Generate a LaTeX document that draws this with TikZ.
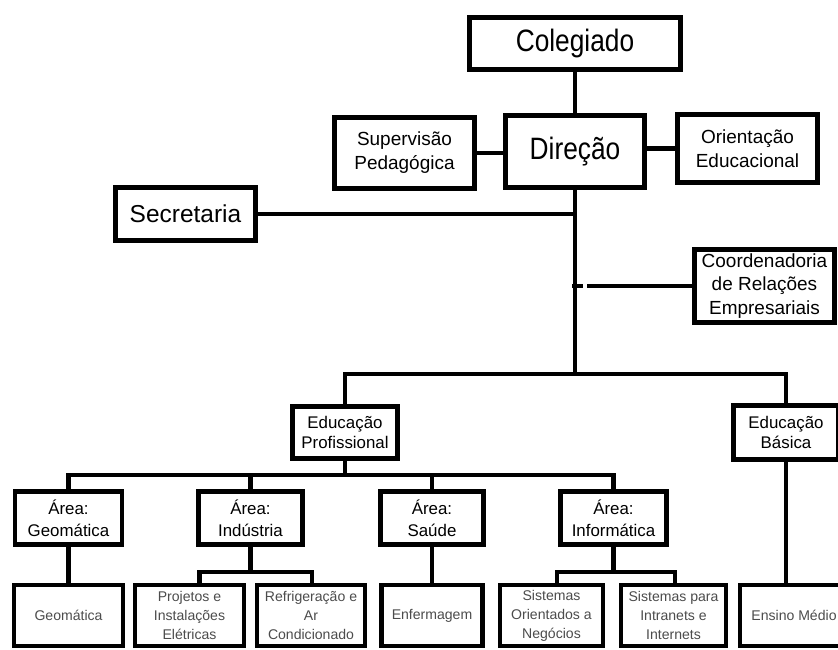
\documentclass[tikz,border=0pt]{standalone}
\usepackage{fontspec}
\setmainfont{Liberation Sans}
\newfontfamily\narrowsf[FakeStretch=0.85]{Liberation Sans}
\tikzset{
  box/.style={draw, line width=3.3pt, fill=white, align=center, inner sep=0pt},
  wh/.style 2 args={minimum width=#1*0.025cm, minimum height=#2*0.025cm},
  big/.style={box, font=\narrowsf\fontsize{22pt}{26pt}\selectfont},
  mid/.style={box, font=\fontsize{13.5pt}{17pt}\selectfont},
  sect/.style={box, font=\fontsize{17.4pt}{20pt}\selectfont},
  edu/.style={box, font=\fontsize{12pt}{14.2pt}\selectfont},
  area/.style={box, font=\fontsize{12pt}{15.6pt}\selectfont},
  leaf/.style={box, line width=2.9pt, text=black!70, font=\fontsize{10pt}{13.6pt}\selectfont},
  link/.style={line width=3.2pt}
}

\begin{document}
\begin{tikzpicture}[x=0.025cm, y=-0.025cm]
	\useasboundingbox (0,0) rectangle (838,650);
	
	\node[big, wh={211}{52}] (col) at (575,43.5) {Colegiado};
	\node[big, wh={139}{72}] (dir) at (575,151.5) {Direção};
	\node[mid, wh={140}{71}] (sup) at (404.5,153) {Supervisão\\Pedagógica};
	\node[mid, wh={140}{68}] (ori) at (747.5,148.5) {Orientação\\Educacional};
	\node[sect, wh={140}{53}] (sec) at (185.5,214) {Secretaria};
	\node[mid, wh={140}{73}] (coo) at (764.5,286) {Coordenadoria\\de Relações\\Empresariais};
	
	\node[edu, wh={105}{52}] (ep) at (345,432.5) {Educação\\Profissional};
	\node[edu, wh={105}{54}] (eb) at (786,432.5) {Educação\\Básica};
	
	\node[area, wh={107}{53}] (ageo) at (68.5,518) {Área:\\Geomática};
	\node[area, wh={104}{53}] (aind) at (250.5,518) {Área:\\Indústria};
	\node[area, wh={103}{53}] (asau) at (432,518) {Área:\\Saúde};
	\node[area, wh={106}{53}] (ainf) at (613.5,518) {Área:\\Informática};
	
	\node[leaf, wh={109}{61}] (geo) at (68.5,615.5) {Geomática};
	\node[leaf, wh={109}{61}] (pro) at (189.5,615.5) {Projetos e\\Instalações\\Elétricas};
	\node[leaf, wh={108}{61}] (ref) at (311,615.5) {Refrigeração e\\Ar\\Condicionado};
	\node[leaf, wh={101}{61}] (enf) at (432,615.5) {Enfermagem};
	\node[leaf, wh={103}{61}] (sor) at (551.5,615.5) {Sistemas\\Orientados a\\Negócios};
	\node[leaf, wh={105}{61}] (sin) at (673.5,615.5) {Sistemas para\\Intranets e\\Internets};
	\node[leaf, wh={108}{61}] (ens) at (794,615.5) {Ensino Médio};
	
	\coordinate (b1) at (575,374);
	\coordinate (b2) at (345,475);
	\coordinate (b3) at (250.5,572);
	\coordinate (b4) at (613.5,572);
	
	\draw[link] (col) -- (dir);
	\draw[link] (sup.east) -- (sup.east -| dir.west);
	\draw[link] (dir.east |- ori.west) -- (ori.west);
	\draw[link] (dir.south) -- (b1);
	\draw[link] (sec.east) -- (sec.east -| b1);
	\draw[link] (coo.west) -- ([xshift=0.3cm]b1 |- coo.west);
	\draw[link] ([xshift=-0.075cm]b1 |- coo.west) -- ([xshift=0.2cm]b1 |- coo.west);
	
	\draw[link] (ep.north) |- (b1) -| (eb.north);
	\draw[link] (ep.south) -- (b2);
	\draw[link] (ageo.north) |- (b2) -| (ainf.north);
	\draw[link] (aind.north) -- (aind.north |- b2);
	\draw[link] (asau.north) -- (asau.north |- b2);
	
	\draw[link] (ageo) -- (geo);
	\draw[link] (aind.south) -- (b3);
	\draw[link] ([xshift=0.25cm]pro.north) |- (b3) -| ([xshift=0.025cm]ref.north);
	\draw[link] (asau) -- (enf);
	\draw[link] (ainf.south) -- (b4);
	\draw[link] ([xshift=0.14cm]sor.north) |- (b4) -| ([xshift=0.04cm]sin.north);
	\draw[link] (eb.south) -- (eb.south |- ens.north);
\end{tikzpicture}
\end{document}
